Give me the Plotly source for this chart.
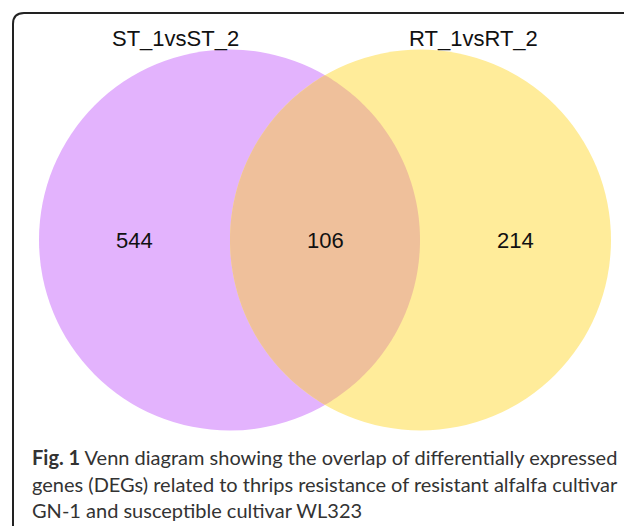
import numpy as np
import plotly.graph_objects as go

# Set names and region counts of the two-way Venn diagram
set_names = ["ST_1vsST_2", "RT_1vsRT_2"]
only_left = 544
shared = 106
only_right = 214

caption_lines = [
    "<b>Fig. 1</b> Venn diagram showing the overlap of differentially expressed",
    "genes (DEGs) related to thrips resistance of resistant alfalfa cultivar",
    "GN-1 and susceptible cultivar WL323",
]

W, H = 624, 526
# circle geometry in pixel units
r = 190.5
cy = 240.0
cx_left, cx_right = 229.5, 420.5

col_left = "#E3B3FD"
col_right = "#FFEC9A"
col_both = "#EFC09B"

fig = go.Figure()

shapes = []
for cx, col in [(cx_left, col_left), (cx_right, col_right)]:
    shapes.append(dict(type="circle", xref="x", yref="y",
                       x0=cx - r, x1=cx + r, y0=cy - r, y1=cy + r,
                       fillcolor=col, line=dict(width=0), layer="below"))

# lens-shaped overlap of the two circles
d = cx_right - cx_left
half = np.arccos((d / 2) / r)
t1 = np.linspace(np.pi - half, np.pi + half, 120)   # right circle, its left arc
t2 = np.linspace(-half, half, 120)                  # left circle, its right arc
xs = np.concatenate([cx_right + r * np.cos(t1), cx_left + r * np.cos(t2)])
ys = np.concatenate([cy + r * np.sin(t1), cy + r * np.sin(t2)])
path = "M " + " L ".join(f"{x:.2f},{y:.2f}" for x, y in zip(xs, ys)) + " Z"
shapes.append(dict(type="path", xref="x", yref="y", path=path,
                   fillcolor=col_both, line=dict(width=0), layer="below"))

# frame with a rounded top-left corner
shapes.append(dict(type="path", xref="x", yref="y",
                   path="M 13,540 L 13,24 Q 13,13 24,13 L 640,13",
                   line=dict(color="#222222", width=2)))

label_font = dict(family="Liberation Sans, Arial, sans-serif", size=22, color="#111111")
annotations = [
    dict(x=175, y=38, text=set_names[0]),
    dict(x=473, y=38, text=set_names[1]),
    dict(x=134, y=240, text=str(only_left)),
    dict(x=325, y=240, text=str(shared)),
    dict(x=515, y=240, text=str(only_right)),
]
for a in annotations:
    a.update(xref="x", yref="y", showarrow=False, font=label_font,
             xanchor="center", yanchor="middle")

caption_font = dict(family="Lato, Open Sans, sans-serif", size=20, color="#333333")
for line, y in zip(caption_lines, [457, 483.5, 510]):
    annotations.append(dict(
        x=30, y=y, xref="x", yref="y", showarrow=False,
        text=line, align="left", xanchor="left", yanchor="middle",
        font=caption_font))

fig.update_layout(
    width=W, height=H, margin=dict(l=0, r=0, t=0, b=0),
    paper_bgcolor="white", plot_bgcolor="white",
    xaxis=dict(range=[0, W], visible=False, fixedrange=True),
    yaxis=dict(range=[H, 0], visible=False, fixedrange=True),
    shapes=shapes, annotations=annotations, showlegend=False,
)

fig.write_html("out.html")
